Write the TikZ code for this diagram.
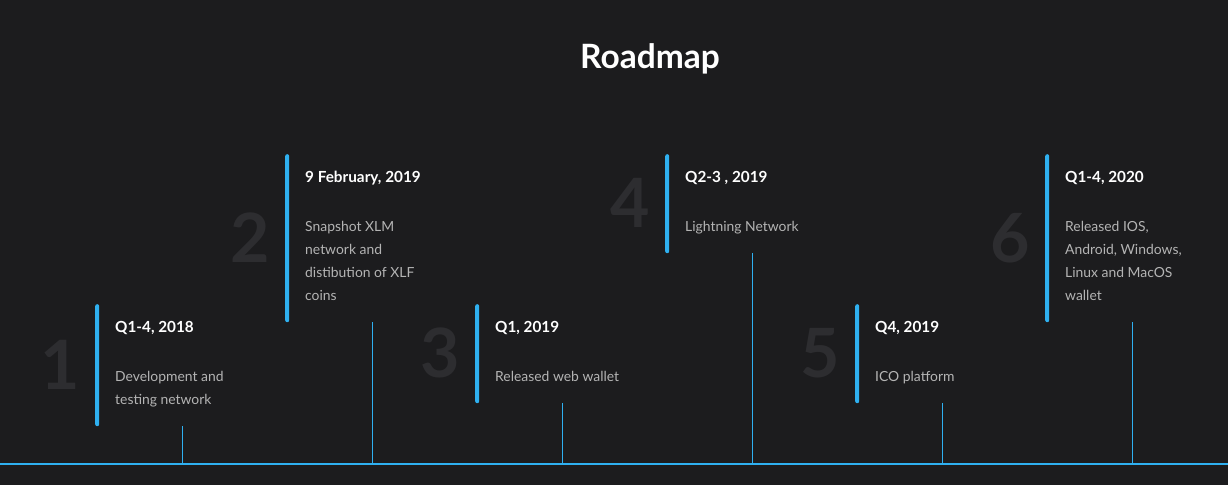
\documentclass[tikz,border=0pt]{standalone}
\usepackage{fontspec}
\setmainfont{Lato}
\definecolor{bgc}{HTML}{1C1C1E}
\definecolor{bluec}{HTML}{2FB0F0}
\definecolor{numc}{HTML}{2D2D30}
\definecolor{descc}{HTML}{B4B4B4}
\tikzset{
  barbox/.style={fill=bluec, draw=none, rounded corners=2pt, inner sep=0pt, minimum width=4pt, anchor=north west},
  datetxt/.style={text=white, font=\fontsize{15.3}{18}\selectfont\bfseries, inner sep=0pt, anchor=base west},
  desctxt/.style={text=descc, font=\fontsize{13.9}{23}\selectfont, inner sep=0pt, anchor=north west, align=left},
  numtxt/.style={text=numc, font=\fontsize{68}{72}\selectfont\bfseries, inner sep=0pt, anchor=base},
  stem/.style={draw=bluec, line width=1pt},
  axis/.style={draw=bluec, line width=1.4pt},
}
\begin{document}
\begin{tikzpicture}[x=1pt,y=-1pt]
\fill[bgc] (0,0) rectangle (1228,485);
\useasboundingbox (0,0) rectangle (1228,485);
\node[text=white, font=\fontsize{33.5}{38}\selectfont\bfseries, inner sep=0pt, anchor=base] (title) at (650,68) {Roadmap};
\coordinate (L) at (0,464);
\coordinate (R) at (1228,464);
\draw[axis] (L) -- (R);
\foreach \i/\x/\top/\h/\date/\desc in {
  1/95/304/122/{Q1-4, 2018}/{Development and\\testing network},
  2/285/154/168/{9 February, 2019}/{Snapshot XLM\\network and\\distibution of XLF\\coins},
  3/475/304/99/{Q1, 2019}/{Released web wallet},
  4/665/154/99/{Q2-3 , 2019}/{Lightning Network},
  5/855/304/99/{Q4, 2019}/{ICO platform},
  6/1045/154/168/{Q1-4, 2020}/{Released IOS,\\Android, Windows,\\Linux and MacOS\\wallet}}{
  \pgfmathsetmacro{\bot}{\top+\h}
  \pgfmathsetmacro{\nb}{\top+\h/2+24}
  \pgfmathsetmacro{\nx}{\x-35}
  \pgfmathsetmacro{\tx}{\x+20}
  \pgfmathsetmacro{\sx}{\x+87}
  \pgfmathsetmacro{\dy}{\top+28}
  \pgfmathsetmacro{\ey}{\top+65}
  \node[numtxt] (num\i) at (\nx,\nb) {\i};
  \node[barbox, minimum height=\h pt] (bar\i) at (\x,\top) {};
  \node[datetxt] (date\i) at (\tx,\dy) {\date};
  \node[desctxt] (desc\i) at (\tx,\ey) {\rule{0pt}{12pt}\desc};
  \coordinate (s\i) at (\sx,\bot);
  \coordinate (t\i) at (\sx,464);
  \draw[stem] (s\i) -- (t\i);
}
\end{tikzpicture}
\end{document}
